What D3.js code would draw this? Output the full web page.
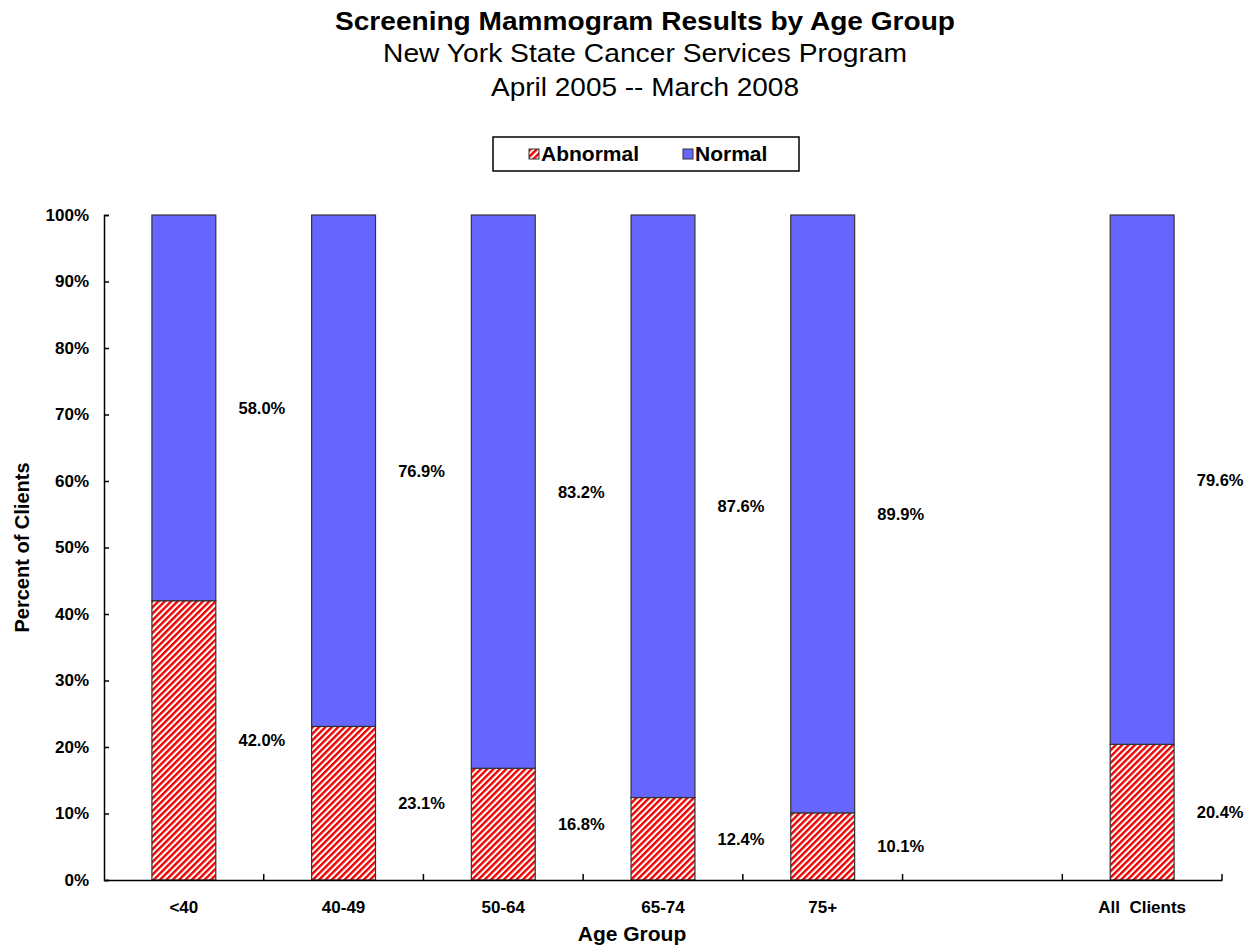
<!DOCTYPE html>
<html>
<head>
<meta charset="utf-8">
<script src="https://cdn.jsdelivr.net/npm/d3@7"></script>
<style>
  body { margin: 0; background: #fff; }
  svg { font-family: Arial, "Liberation Sans", sans-serif; }
  .tick-label { font-size: 17px; font-weight: bold; fill: #000; }
</style>
</head>
<body>
<svg id="chart"></svg>
<script>
// data
const slots = ['<40', '40-49', '50-64', '65-74', '75+', 'gap', 'All  Clients'];
const groups = ['<40', '40-49', '50-64', '65-74', '75+', 'All  Clients'];
const abnormal = [42.0, 23.1, 16.8, 12.4, 10.1, 20.4];
const normal = [58.0, 76.9, 83.2, 87.6, 89.9, 79.6];
const yTicks = [0, 10, 20, 30, 40, 50, 60, 70, 80, 90, 100];

const width = 1251, height = 949;
const margin = {top: 215, right: 29, bottom: 69, left: 104};
const innerW = width - margin.left - margin.right;
const innerH = height - margin.top - margin.bottom;

const svg = d3.select('#chart')
    .attr('width', width)
    .attr('height', height);

// hatch for abnormal
const defs = svg.append('defs');
const pat = defs.append('pattern')
    .attr('id', 'hatch')
    .attr('patternUnits', 'userSpaceOnUse')
    .attr('width', 4.5)
    .attr('height', 4.5)
    .attr('patternTransform', 'rotate(45)');
pat.append('rect').attr('width', 4.5).attr('height', 4.5).attr('fill', '#fff');
pat.append('rect').attr('width', 2.4).attr('height', 4.5).attr('fill', '#ee0000');

// titles
const titles = [
  {text: 'Screening Mammogram Results by Age Group', y: 30, size: 25, bold: true, len: 620},
  {text: 'New York State Cancer Services Program', y: 62, size: 25, bold: false, len: 524},
  {text: 'April 2005  -- March 2008', y: 96, size: 25, bold: false, len: 308}
];
svg.selectAll('.title')
  .data(titles)
  .join('text')
    .attr('class', 'title')
    .attr('x', 645)
    .attr('y', d => d.y)
    .attr('text-anchor', 'middle')
    .attr('font-size', d => d.size)
    .attr('font-weight', d => d.bold ? 'bold' : 'normal')
    .attr('textLength', d => d.len)
    .attr('lengthAdjust', 'spacingAndGlyphs')
    .text(d => d.text);

// legend
const legend = svg.append('g').attr('transform', 'translate(493,137)');
legend.append('rect')
    .attr('width', 306).attr('height', 34)
    .attr('fill', '#fff').attr('stroke', '#000').attr('stroke-width', 1.5);
const legendItems = [
  {label: 'Abnormal', fill: 'url(#hatch)', x: 36},
  {label: 'Normal', fill: '#6666ff', x: 190}
];
const li = legend.selectAll('.li').data(legendItems).join('g')
    .attr('class', 'li')
    .attr('transform', d => `translate(${d.x},12)`);
li.append('rect')
    .attr('width', 10).attr('height', 10)
    .attr('fill', d => d.fill)
    .attr('stroke', '#333').attr('stroke-width', 1);
li.append('text')
    .attr('x', 12).attr('y', 12)
    .attr('font-size', 21).attr('font-weight', 'bold')
    .text(d => d.label);

const chart = svg.append('g')
    .attr('transform', `translate(${margin.left},${margin.top})`);

const x = d3.scaleBand()
    .domain(slots)
    .range([0, innerW])
    .paddingInner(0.6)
    .paddingOuter(0.3);

const y = d3.scaleLinear()
    .domain([0, 100])
    .range([innerH, 0]);

const rows = groups.map((g, i) => ({group: g, abnormal: abnormal[i], normal: normal[i]}));
const stacked = d3.stack().keys(['abnormal', 'normal'])(rows);
const fills = {abnormal: 'url(#hatch)', normal: '#6666ff'};

const layer = chart.selectAll('.layer')
  .data(stacked)
  .join('g')
    .attr('class', 'layer')
    .attr('fill', d => fills[d.key]);

layer.selectAll('rect')
  .data(d => d)
  .join('rect')
    .attr('x', d => x(d.data.group))
    .attr('width', x.bandwidth())
    .attr('y', d => y(d[1]))
    .attr('height', d => y(d[0]) - y(d[1]))
    .attr('stroke', '#333')
    .attr('stroke-width', 1.2);

// value labels, right of each bar at segment middle
layer.selectAll('.val')
  .data(d => d.map(s => ({s, key: d.key})))
  .join('text')
    .attr('class', 'val')
    .attr('x', d => x(d.s.data.group) + x.bandwidth() / 2 + 78)
    .attr('y', d => y((d.s[0] + d.s[1]) / 2) + 6)
    .attr('text-anchor', 'middle')
    .attr('font-size', 16.5)
    .attr('font-weight', 'bold')
    .attr('fill', '#000')
    .text(d => d.s.data[d.key].toFixed(1) + '%');

// y axis
const yAxis = d3.axisLeft(y)
    .tickValues(yTicks)
    .tickSize(-5)
    .tickPadding(15)
    .tickFormat(d => d + '%');
chart.append('g')
    .call(yAxis)
    .call(g => g.selectAll('.tick text').attr('class', 'tick-label'))
    .call(g => g.selectAll('line, path').attr('stroke', '#000').attr('stroke-width', 1.5));

// x axis: labels from the band scale, ticks at slot edges
const xAxis = d3.axisBottom(x)
    .tickSize(0)
    .tickPadding(21)
    .tickFormat(d => d === 'gap' ? '' : d);
chart.append('g')
    .attr('transform', `translate(0,${innerH})`)
    .call(xAxis)
    .call(g => g.selectAll('.tick text').attr('class', 'tick-label').style('white-space', 'pre'))
    .call(g => g.select('.domain').attr('stroke', '#000').attr('stroke-width', 1.5));

const edges = d3.scaleLinear().domain([0, slots.length]).range([0, innerW]);
chart.append('g')
  .selectAll('line')
  .data(d3.range(1, slots.length + 1))
  .join('line')
    .attr('x1', d => edges(d)).attr('x2', d => edges(d))
    .attr('y1', innerH).attr('y2', innerH - 6)
    .attr('stroke', '#000').attr('stroke-width', 1.5);

// axis titles
svg.append('text')
    .attr('transform', `translate(29,${margin.top + innerH / 2}) rotate(-90)`)
    .attr('text-anchor', 'middle')
    .attr('font-size', 20)
    .attr('font-weight', 'bold')
    .text('Percent of Clients');

svg.append('text')
    .attr('x', 632)
    .attr('y', 941)
    .attr('text-anchor', 'middle')
    .attr('font-size', 21)
    .attr('font-weight', 'bold')
    .text('Age Group');
</script>
</body>
</html>
